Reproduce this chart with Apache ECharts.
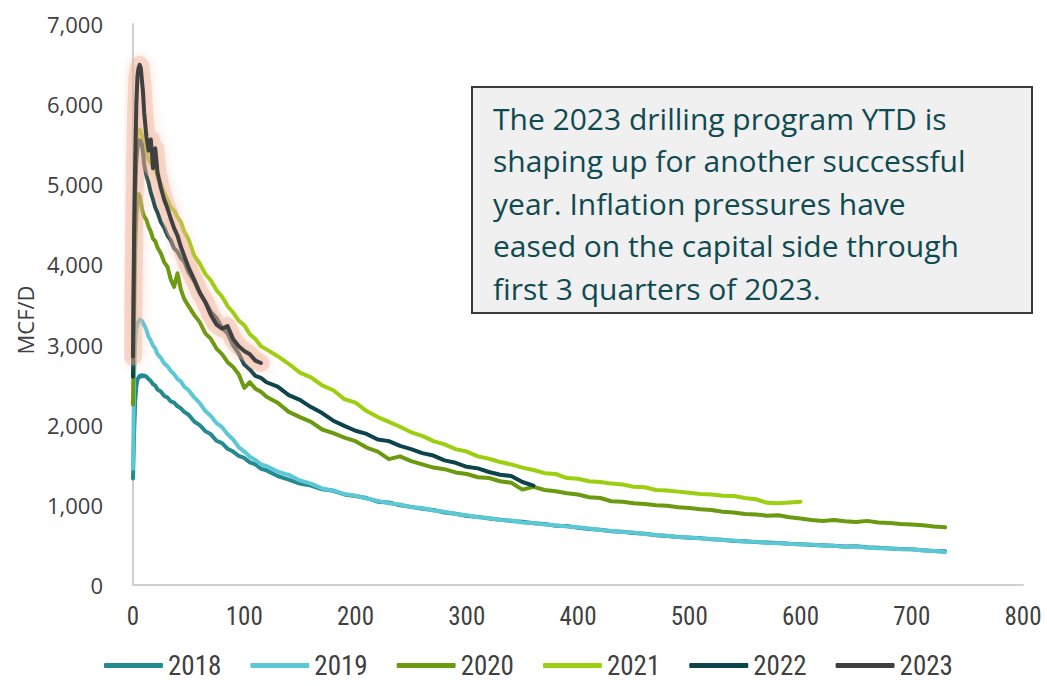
<!DOCTYPE html>
<html>
<head>
<meta charset="utf-8">
<script src="https://cdn.jsdelivr.net/npm/echarts@6/dist/echarts.min.js"></script>
<style>
html,body{margin:0;padding:0;background:#fff;}
#chart{width:1047px;height:686px;}
</style>
</head>
<body>
<div id="chart"></div>
<script>
// Days on production (x values)
const days = [0,1,2,3,4,5,6,7,8,9,10,12,14,16,18,20,22,25,28,31,34,37,40,43,46,
  50,55,60,65,70,75,80,85,90,95,100,105,110,115,120,
  130,140,150,160,170,180,190,200,210,220,230,240,250,260,270,280,290,300,
  310,320,330,340,350,360,370,380,390,400,410,420,430,440,450,460,470,480,490,500,
  510,520,530,540,550,560,570,580,590,600,610,620,630,640,650,660,670,680,690,700,
  710,720,730];

const yearNames = ['2018','2019','2020','2021','2022','2023'];

const mcf2018 = [1330,1900,2300,2480,2560,2590,2610,2600,2620,2605,2615,
  2600,2570,2545,2505,2490,2440,
  2415,2360,2340,2290,2275,2230,2205,2160,
  2125,2040,1995,1920,1880,1800,1770,1700,1665,1610,1585,1530,1505,1450,1430,
  1360,1315,1265,1240,1195,1175,1130,1110,1085,1040,1030,995,975,950,935,905,890,860,
  850,830,815,800,790,770,760,740,735,715,700,690,670,665,650,640,620,610,600,590,
  585,570,565,550,545,535,530,525,515,510,500,495,490,480,485,470,465,455,450,445,
  435,425,420];

const mcf2019 = [1450,2600,3050,3200,3265,3290,3310,3300,3295,3270,3245,
  3185,3095,3050,2985,2950,2880,
  2835,2765,2730,2670,2630,2570,2540,2475,
  2430,2340,2270,2170,2110,2020,1970,1880,1815,1720,1665,1600,1560,1505,1485,
  1415,1375,1305,1265,1205,1180,1135,1115,1080,1050,1020,1005,970,960,930,915,885,870,
  845,835,810,805,780,775,755,745,730,720,705,685,675,660,655,635,625,615,600,595,
  580,575,560,555,540,540,525,520,515,505,505,490,490,475,480,465,460,460,445,445,
  430,425,410];

const mcf2020 = [2250,3300,4200,4600,4800,4880,4850,4780,4700,4640,4600,
  4560,4470,4410,4320,4290,4210,
  4140,4030,3970,3810,3720,3890,3690,3570,
  3480,3370,3280,3140,3070,2950,2880,2780,2720,2630,2460,2530,2450,2410,2350,
  2275,2160,2095,2035,1940,1895,1840,1795,1715,1665,1570,1605,1545,1505,1465,1445,1405,1385,
  1345,1335,1295,1275,1190,1225,1185,1170,1145,1130,1095,1085,1045,1040,1020,1010,995,990,970,960,
  945,935,915,905,885,880,865,870,845,830,810,800,810,795,785,800,780,775,760,755,
  745,730,720];

const mcf2021 = [2900,4300,5100,5450,5600,5660,5680,5650,5620,5550,5480,
  5390,5300,5270,5210,5200,5090,
  5010,4890,4810,4710,4670,4590,4530,4410,
  4310,4110,4010,3880,3800,3680,3600,3480,3400,3300,3240,3130,3070,2980,2940,
  2855,2760,2650,2590,2490,2430,2320,2275,2170,2095,2035,1975,1905,1860,1795,1755,1695,1665,
  1605,1575,1535,1505,1465,1435,1395,1385,1335,1325,1295,1285,1265,1255,1225,1220,1185,1180,1165,1150,
  1135,1130,1115,1110,1085,1070,1025,1020,1030,1040];

const mcf2022 = [2600,4000,4900,5300,5450,5520,5550,5530,5490,5400,5250,
  5110,5020,4900,4810,4710,4650,
  4530,4460,4360,4300,4200,4160,4080,4040,
  3900,3790,3640,3530,3410,3330,3210,3140,2990,2890,2750,2690,2610,2585,2530,
  2475,2370,2310,2220,2145,2050,1985,1925,1885,1815,1795,1735,1695,1645,1615,1555,1525,1475,
  1455,1410,1375,1360,1285,1240];

const mcf2023 = [2850,4400,5300,6000,6350,6450,6490,6450,6300,6150,5900,
  5600,5420,5560,5200,5450,5150,
  4960,4810,4700,4570,4450,4360,4220,4110,
  3960,3810,3650,3530,3370,3250,3200,3230,3070,2980,2920,2880,2800,2770];

const yTicks = [0,1000,2000,3000,4000,5000,6000,7000];
const xTicks = [0,100,200,300,400,500,600,700,800];

const noteLines = [
  'The 2023 drilling program YTD is',
  'shaping up for another successful',
  'year. Inflation pressures have',
  'eased on the capital side through',
  'first 3 quarters of 2023.'
];

const colors = ['#238B90','#5CC8D6','#6B9A10','#9CCF10','#0D434A','#404040'];
const allVals = [mcf2018, mcf2019, mcf2020, mcf2021, mcf2022, mcf2023];

function pairs(vals){ return vals.map((v,i)=>[days[i], v]); }

const series = allVals.map((vals, k) => ({
  name: yearNames[k],
  type: 'line',
  data: pairs(vals),
  showSymbol: false,
  symbol: 'none',
  smooth: false,
  z: 2 + k + (k === 5 ? 2 : 0),
  color: colors[k],
  lineStyle: { width: 4, color: colors[k], join: 'round', cap: 'round' }
}));

// soft orange glow underneath the 2023 line
series.push({
  name: '2023 glow',
  type: 'line',
  data: pairs(mcf2023),
  showSymbol: false,
  symbol: 'none',
  z: 8,
  silent: true,
  lineStyle: { width: 18, color: 'rgba(238,175,150,0.40)', join: 'round', cap: 'round',
               shadowBlur: 12, shadowColor: 'rgba(238,165,135,0.8)' }
});

const chart = echarts.init(document.getElementById('chart'), null, {renderer: 'svg'});
chart.setOption({
  backgroundColor: '#ffffff',
  animation: false,
  grid: { left: 133, right: 24, top: 24, bottom: 101, containLabel: false },
  xAxis: {
    type: 'value', min: 0, max: 800, interval: 100,
    axisLine: { show: true, lineStyle: { color: '#d0d0d0', width: 2 } },
    axisTick: { show: false },
    splitLine: { show: false },
    axisLabel: {
      margin: 19, color: '#404040', fontSize: 25,
      fontFamily: '"Liberation Sans Narrow", "Roboto Condensed", sans-serif',
      formatter: v => xTicks.includes(v) ? String(v) : ''
    }
  },
  yAxis: {
    type: 'value', min: 0, max: 7000, interval: 1000,
    axisLine: { show: true, lineStyle: { color: '#d0d0d0', width: 2 } },
    axisTick: { show: false },
    splitLine: { show: false },
    axisLabel: {
      margin: 30, color: '#404040', fontSize: 22,
      fontFamily: '"Open Sans", sans-serif',
      formatter: v => yTicks.includes(v) ? v.toLocaleString('en-US') : ''
    }
  },
  legend: {
    data: yearNames,
    left: 99, top: 647,
    icon: 'roundRect',
    itemWidth: 59, itemHeight: 5,
    itemGap: 29,
    textStyle: {
      color: '#404040', fontSize: 27,
      fontFamily: '"Liberation Sans Narrow", "Roboto Condensed", sans-serif'
    }
  },
  graphic: [
    {
      type: 'text', x: 25, y: 320, rotation: Math.PI / 2,
      style: {
        text: 'MCF/D', fill: '#404040', fontSize: 22,
        fontFamily: '"Open Sans", sans-serif',
        align: 'center', verticalAlign: 'middle'
      }
    },
    {
      type: 'rect', x: 472, y: 87, z: 100,
      shape: { width: 560, height: 226 },
      style: { fill: '#f0f0f0', stroke: '#3a3a3a', lineWidth: 2 }
    },
    {
      type: 'text', x: 493, y: 97, z: 101,
      style: {
        text: noteLines.join('\n'), fill: '#0F4A50', fontSize: 30,
        lineHeight: 42.5,
        fontFamily: '"Open Sans", sans-serif',
        align: 'left', verticalAlign: 'top'
      }
    }
  ],
  series: series
});
</script>
</body>
</html>
